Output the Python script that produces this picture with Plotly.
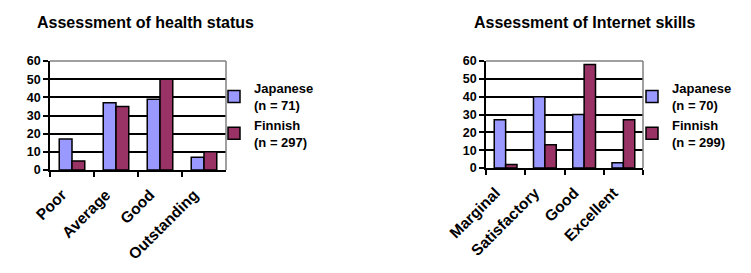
import plotly.graph_objects as go

health_categories = ["Poor", "Average", "Good", "Outstanding"]
health_japanese = [17, 37, 39, 7]
health_finnish = [5, 35, 50, 10]
health_labels = ["Japanese<br>(n = 71)", "Finnish<br>(n = 297)"]

internet_categories = ["Marginal", "Satisfactory", "Good", "Excellent"]
internet_japanese = [27, 40, 30, 3]
internet_finnish = [2, 13, 58, 27]
internet_labels = ["Japanese<br>(n = 70)", "Finnish<br>(n = 299)"]

y_ticks = [0, 10, 20, 30, 40, 50, 60]

titles = ["Assessment of health status", "Assessment of Internet skills"]

W, H = 751, 273
JP = "#9999FF"
FI = "#993366"
FONT = "Liberation Sans, Arial, sans-serif"

fig = go.Figure()

def px_x(v):
    return v / W

def px_y(v):
    return 1 - v / H

fig.add_trace(go.Bar(x=health_categories, y=health_japanese, name=health_labels[0],
                     marker=dict(color=JP, line=dict(color="black", width=1.5)),
                     xaxis="x", yaxis="y", legend="legend"))
fig.add_trace(go.Bar(x=health_categories, y=health_finnish, name=health_labels[1],
                     marker=dict(color=FI, line=dict(color="black", width=1.5)),
                     xaxis="x", yaxis="y", legend="legend"))
fig.add_trace(go.Bar(x=internet_categories, y=internet_japanese, name=internet_labels[0],
                     marker=dict(color=JP, line=dict(color="black", width=1.5)),
                     xaxis="x2", yaxis="y2", legend="legend2"))
fig.add_trace(go.Bar(x=internet_categories, y=internet_finnish, name=internet_labels[1],
                     marker=dict(color=FI, line=dict(color="black", width=1.5)),
                     xaxis="x2", yaxis="y2", legend="legend2"))

xfont = dict(family=FONT, size=15.5, color="black", weight="bold")
yfont = dict(family=FONT, size=12.5, color="black", weight="bold")
lfont = dict(family=FONT, size=13, color="black", weight="bold")

xcommon = dict(type="category", showline=True, linecolor="black", linewidth=1.5,
               ticks="outside", ticklen=5, tickwidth=1.5, tickcolor="black",
               tickson="boundaries", tickangle=-45, tickfont=xfont,
               ticklabelstandoff=8, ticklabelshift=-10,
               showgrid=False, fixedrange=True, automargin=False)
ycommon = dict(range=[0, 60], tickvals=y_ticks, showline=True, linecolor="black",
               linewidth=1.5, ticks="outside", ticklen=5, tickwidth=1.5,
               tickcolor="black", showgrid=True, gridcolor="black", gridwidth=1.5,
               zeroline=False, tickfont=yfont, fixedrange=True, automargin=False)

fig.update_layout(
    width=W, height=H,
    margin=dict(l=0, r=0, t=0, b=0, autoexpand=False),
    paper_bgcolor="white", plot_bgcolor="white",
    bargap=0.42, bargroupgap=0, barmode="group",
    xaxis=dict(domain=[px_x(50), px_x(226)], anchor="y", **xcommon),
    yaxis=dict(domain=[px_y(170), px_y(61)], anchor="x", **ycommon),
    xaxis2=dict(domain=[px_x(486), px_x(643)], anchor="y2", **xcommon),
    yaxis2=dict(domain=[px_y(168), px_y(61)], anchor="x2", **ycommon),
    legend=dict(x=px_x(214), y=px_y(73), xanchor="left", yanchor="top",
                font=lfont, bgcolor="rgba(0,0,0,0)", tracegroupgap=0, itemwidth=30),
    legend2=dict(x=px_x(632), y=px_y(73), xanchor="left", yanchor="top",
                 font=lfont, bgcolor="rgba(0,0,0,0)", tracegroupgap=0, itemwidth=30),
    showlegend=True,
)

for xr, yr in [("x domain", "y domain"), ("x2 domain", "y2 domain")]:
    fig.add_shape(type="line", xref=xr, yref=yr, x0=0, x1=1, y0=1, y1=1,
                  line=dict(color="#808080", width=1.5), layer="above")
    fig.add_shape(type="line", xref=xr, yref=yr, x0=1, x1=1, y0=0, y1=1,
                  line=dict(color="#808080", width=1.5), layer="above")

tfont = dict(family=FONT, size=16, color="black", weight="bold")
fig.add_annotation(text=titles[0], x=px_x(145), y=px_y(22), xref="paper", yref="paper",
                   xanchor="center", yanchor="middle", showarrow=False, font=tfont)
fig.add_annotation(text=titles[1], x=px_x(585), y=px_y(22), xref="paper", yref="paper",
                   xanchor="center", yanchor="middle", showarrow=False, font=tfont)

fig.write_html("out.html")
